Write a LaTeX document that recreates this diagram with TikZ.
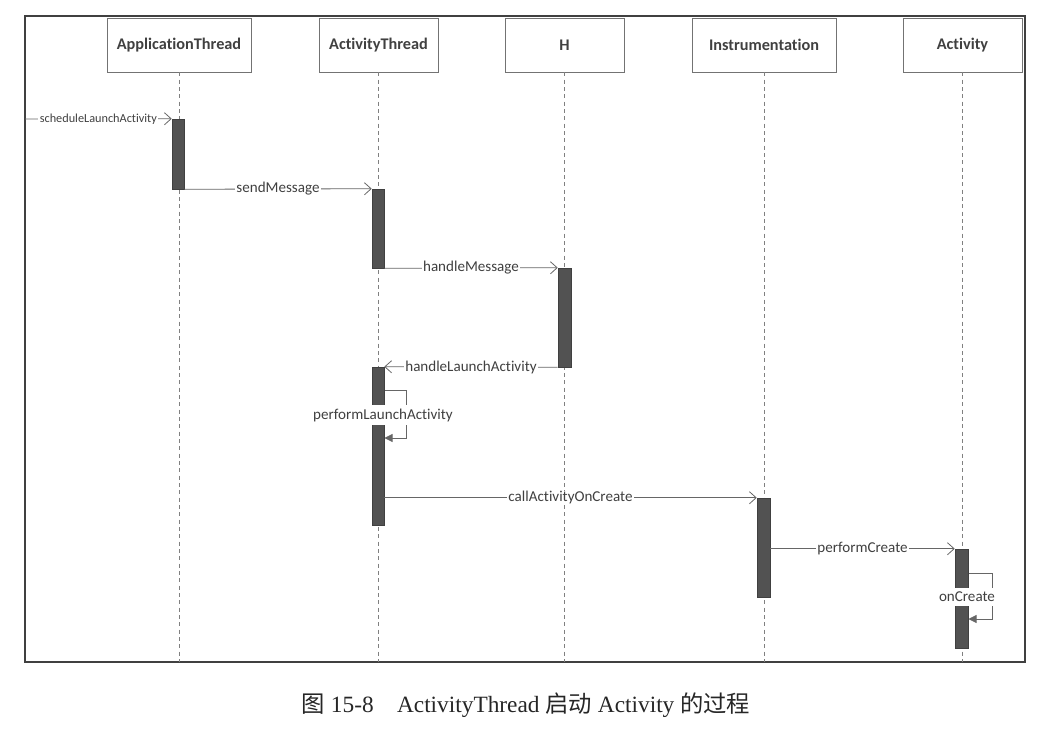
\documentclass[tikz,border=0pt]{standalone}
\usepackage{fontspec}
\setmainfont{Liberation Serif}
\newfontfamily\uifont[Ligatures={NoCommon,NoRare}]{Carlito}
\newfontfamily\cjk{Noto Sans CJK SC}
\usetikzlibrary{arrows.meta,fit}

\begin{document}
\begin{tikzpicture}[x=0.75pt,y=-0.75pt,
	head/.style={draw=black!55,line width=0.6pt,minimum width=89.25pt,minimum height=40.5pt,inner sep=0pt,font=\uifont\bfseries\fontsize{12.2}{14}\selectfont,text=black!75},
	life/.style={draw=black!50,dash pattern=on 3pt off 2.5pt,line width=0.5pt},
	bar/.style={fill=black!68,draw=black!75,line width=0.4pt,inner sep=0pt},
	msg/.style={draw=black!60,line width=0.6pt,-{Straight Barb[length=5pt,width=9pt]}},
	self/.style={draw=black!60,line width=0.6pt,-{Triangle[length=6pt,width=6pt]}},
	lbl/.style={fill=white,inner xsep=1pt,inner ysep=0.5pt,font=\uifont\fontsize{11.3}{13}\selectfont,text=black!75}]
	\useasboundingbox (0,0) rectangle (1061,731);
	\draw[black!75,line width=0.9pt] (25,16) rectangle (1025,662);
	\coordinate (bot) at (0,662);
	\node[head,minimum width=108pt] (hApp) at (179,45) {ApplicationThread};
	\node[head] (hAct) at (378.5,45) {ActivityThread};
	\node[head] (hH) at (564.5,45) {H};
	\node[head,minimum width=108pt] (hInst) at (764,45) {Instrumentation};
	\node[head] (hActy) at (962.5,45) {Activity};
	\draw[life] (hApp.south) -- (hApp.south |- bot);
	\draw[life] (hAct.south) -- (hAct.south |- bot);
	\draw[life] (hH.south) -- (hH.south |- bot);
	\draw[life] (hInst.south) -- (hInst.south |- bot);
	\draw[life] (hActy.south) -- (hActy.south |- bot);
	\node[bar,fit={(172,119)(184,189)}] (bApp) {};
	\node[bar,fit={(372,189)(384,268)}] (bAct1) {};
	\node[bar,fit={(558,268)(571,367)}] (bH) {};
	\node[bar,fit={(372,367)(384,525)}] (bAct2) {};
	\node[bar,fit={(757,498)(770,597)}] (bInst) {};
	\node[bar,fit={(955,549)(968,648)}] (bActy) {};
	\coordinate (src) at (25,119);
	\draw[msg] (src) -- (bApp.north west) node[lbl,midway,font=\uifont\fontsize{9.2}{11}\selectfont] {scheduleLaunchActivity};
	\draw[msg] (bApp.south east) -- (bAct1.north west) node[lbl,midway] {sendMessage};
	\draw[msg] (bAct1.south east) -- (bH.north west) node[lbl,midway] {handleMessage};
	\draw[msg] (bH.south west) -- (bAct2.north east) node[lbl,midway] {handleLaunchActivity};
	\draw[msg] (bAct2.east |- bInst.north) -- (bInst.north west) node[lbl,midway] {callActivityOnCreate};
	\draw[msg] (bInst.east |- bActy.north) -- (bActy.north west) node[lbl,midway] {performCreate};
	\coordinate (l1a) at (384.5,390);
	\coordinate (l1b) at (384.5,438);
	\draw[self] (l1a) -- ++(22,0) |- (l1b);
	\node[lbl,inner ysep=3pt] (lPerf) at (383,415) {performLaunchActivity};
	\coordinate (l2a) at (968.5,573);
	\coordinate (l2b) at (968.5,619);
	\draw[self] (l2a) -- ++(24,0) |- (l2b);
	\node[lbl,inner ysep=3pt] (lCreate) at (967,597) {onCreate};
	\node[font=\fontsize{17.5}{21}\selectfont,text=black!85] (cap) at (526,705) {{\cjk 图} 15-8\quad ActivityThread {\cjk 启动} Activity {\cjk 的过程}};
\end{tikzpicture}
\end{document}
